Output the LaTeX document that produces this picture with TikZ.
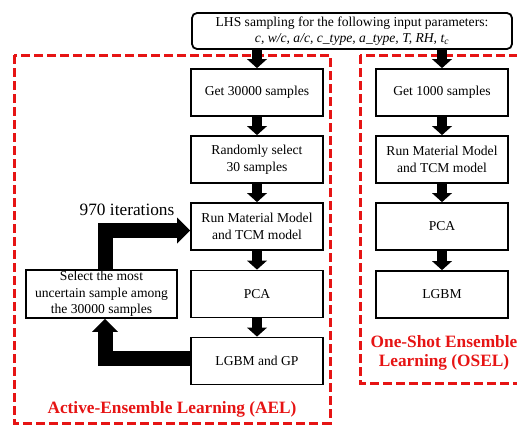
\documentclass[tikz,border=0pt]{standalone}
\usepackage{fontspec}
\setmainfont{Liberation Serif}
\usepackage{xcolor}
\usepackage{tikz}
\usetikzlibrary{arrows.meta,positioning,calc}
\definecolor{aelred}{RGB}{230,20,20}
\tikzset{
  box/.style={draw,line width=1.8pt,align=center,
              font=\fontsize{13.6}{16.5}\selectfont,
              minimum width=132pt,minimum height=47pt,inner sep=1pt},
  tbox/.style={box,rounded corners=5pt,minimum width=320pt,minimum height=36pt},
  arr/.style={-{Triangle[width=20pt,length=9pt,line width=0pt]},line width=10pt},
  bigarr/.style={-{Triangle[width=26pt,length=13pt,line width=0pt]},
                 line width=15pt,line join=miter},
  dframe/.style={draw=aelred,line width=3pt,dash pattern=on 9pt off 4pt},
  lbl/.style={text=aelred,align=center,
              font=\fontsize{17.3}{19}\selectfont\bfseries},
}

\begin{document}
\begin{tikzpicture}[x=1pt,y=-1pt]
\useasboundingbox (0,0) rectangle (517,426);
% dashed frames
\draw[dframe] (14,55) rectangle (330,423);
\draw[dframe] (360,55) rectangle (540,383);
\node[lbl] (ael) at (172,409) {Active-Ensemble Learning (AEL)};
\node[lbl] (osel) at (444,352.5) {One-Shot Ensemble\\Learning (OSEL)};
% input box
\node[tbox] (lhs) at (352,31)
  {LHS sampling for the following input parameters:\\
   \textit{c, w/c, a/c, c\_type, a\_type, T, RH, t\textsubscript{c}}};
% AEL column
\node[box] (g30k)  at (257,92.5)  {Get 30000 samples};
\node[box] (rand)  at (257,159.5) {Randomly select\\30 samples};
\node[box] (runA)  at (257,226.5) {Run Material Model\\and TCM model};
\node[box] (pcaA)  at (257,294)   {PCA};
\node[box] (lgbmA) at (257,361)   {LGBM and GP};
\node[box,minimum width=151pt,minimum height=48pt] (sel) at (101.5,294)
  {Select the most\\uncertain sample among\\the 30000 samples};
% OSEL column
\node[box] (g1k)   at (442,92.5)  {Get 1000 samples};
\node[box] (runO)  at (442,159.5) {Run Material Model\\and TCM model};
\node[box] (pcaO)  at (442,226.5) {PCA};
\node[box] (lgbmO) at (442,294.5) {LGBM};
% arrows
\draw[arr] (lhs.south -| g30k) -- (g30k.north);
\draw[arr] (lhs.south -| g1k) -- (g1k.north);
\foreach \a/\b in {g30k/rand,rand/runA,runA/pcaA,pcaA/lgbmA,
                   g1k/runO,runO/pcaO,pcaO/lgbmO}
  \draw[arr] (\a) -- (\b);
% active learning loop
\coordinate (upA) at (105,230.5);
\coordinate (dnA) at (105,358.5);
\draw[bigarr] (sel.north -| upA) |- (runA.west |- upA);
\draw[bigarr] (lgbmA.west |- dnA) -| (sel.south -| dnA);
\node[font=\fontsize{17.3}{19}\selectfont] (iter) at (127,210) {970 iterations};
\end{tikzpicture}
\end{document}
